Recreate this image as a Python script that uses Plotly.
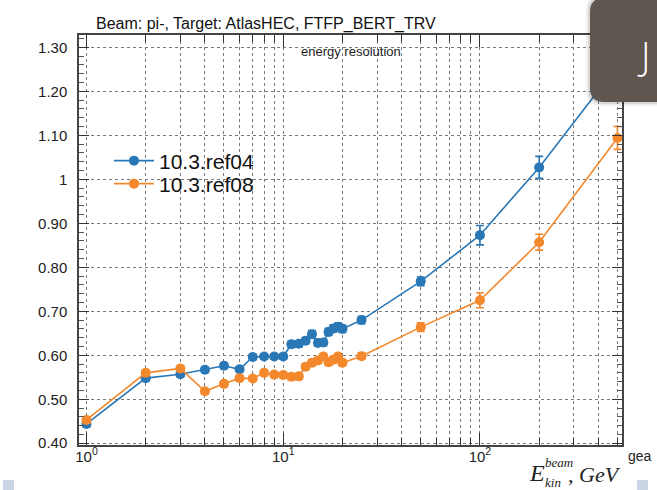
import plotly.graph_objects as go

# ---------------- data ----------------
energy = [1, 2, 3, 4, 5, 6, 7, 8, 9, 10, 11, 12, 13, 14, 15, 16, 17, 18, 19, 20,
          25, 50, 100, 200, 500]
ref04 = [0.444, 0.548, 0.557, 0.567, 0.576, 0.568, 0.596, 0.597, 0.597, 0.597,
         0.625, 0.626, 0.633, 0.648, 0.628, 0.629, 0.653, 0.661, 0.665, 0.660,
         0.680, 0.768, 0.873, 1.027, 1.258]
ref04_err = [0.007, 0.006, 0.006, 0.006, 0.006, 0.006, 0.006, 0.006, 0.006, 0.006,
             0.007, 0.007, 0.007, 0.008, 0.007, 0.007, 0.008, 0.008, 0.008, 0.008,
             0.008, 0.010, 0.022, 0.025, 0.030]
ref08 = [0.453, 0.560, 0.570, 0.518, 0.535, 0.548, 0.547, 0.560, 0.556, 0.555,
         0.551, 0.552, 0.574, 0.583, 0.588, 0.597, 0.584, 0.590, 0.597, 0.583,
         0.598, 0.664, 0.725, 0.857, 1.094]
ref08_err = [0.007, 0.006, 0.006, 0.006, 0.006, 0.006, 0.006, 0.006, 0.006, 0.006,
             0.007, 0.007, 0.007, 0.007, 0.007, 0.007, 0.007, 0.007, 0.007, 0.007,
             0.007, 0.010, 0.017, 0.018, 0.026]

series_names = ["10.3.ref04", "10.3.ref08"]
y_ticks = [0.4, 0.5, 0.6, 0.7, 0.8, 0.9, 1.0, 1.1, 1.2, 1.3]
y_ticktext = ["0.40", "0.50", "0.60", "0.70", "0.80", "0.90", "1", "1.10", "1.20", "1.30"]
x_major = [1, 10, 100]
x_major_text = ["10<sup>0</sup>", "10<sup>1</sup>", "10<sup>2</sup>"]
x_minor = [2, 3, 4, 5, 6, 7, 8, 9, 20, 30, 40, 50, 60, 70, 80, 90, 200, 300, 400, 500]

# ---------------- geometry helpers (pixel -> paper) ----------------
W, H = 657, 490
L, R, T, B = 79, 622, 35, 445


def px(x):
    return (x - L) / (R - L)


def py(y):
    return (B - y) / (B - T)


BLUE = "#2a77b5"
ORANGE = "#f4882c"
FONT = "Liberation Sans, Arial, Helvetica, sans-serif"
SERIF = "Liberation Serif, Times New Roman, serif"

fig = go.Figure()
for name, vals, errs, col, leg in [(series_names[0], ref04, ref04_err, BLUE, "legend"),
                                   (series_names[1], ref08, ref08_err, ORANGE, "legend2")]:
    fig.add_trace(go.Scatter(
        x=energy, y=vals, name=name, mode="lines+markers", legend=leg,
        line=dict(color=col, width=1.6),
        marker=dict(color=col, size=10, line=dict(width=0)),
        error_y=dict(type="data", array=errs, color=col, thickness=1.6, width=4),
    ))

grid = dict(showgrid=True, gridcolor="#7a7a7a", gridwidth=1, griddash="dot")

fig.update_xaxes(
    type="log", range=[-0.038, 2.722],
    tickmode="array", tickvals=x_major, ticktext=x_major_text,
    ticks="inside", ticklen=12, tickwidth=1.2, tickcolor="#333",
    showline=True, linecolor="#444", linewidth=1.5, mirror="allticks",
    tickfont=dict(family=FONT, size=15, color="#222"), ticklabelstandoff=-3,
    minor=dict(tickmode="array", tickvals=x_minor, ticks="inside", ticklen=7,
               tickwidth=1, tickcolor="#333", **grid),
    zeroline=False, **grid,
)
fig.update_yaxes(
    range=[0.396, 1.328],
    tickmode="array", tickvals=y_ticks, ticktext=y_ticktext,
    ticks="inside", ticklen=10, tickwidth=1.2, tickcolor="#333",
    showline=True, linecolor="#444", linewidth=1.5, mirror="allticks",
    tickfont=dict(family=FONT, size=15, color="#222"), ticklabelstandoff=7,
    minor=dict(dtick=0.02, tick0=0.4, ticks="inside", ticklen=5, tickwidth=1,
               tickcolor="#555", showgrid=False),
    zeroline=False, **grid,
)


# ---------- slide overlay box (top-right) ----------
def rounded_box(x0, y0, x1, y1, r):
    s = "M {:.5f},{:.5f} L {:.5f},{:.5f} L {:.5f},{:.5f} L {:.5f},{:.5f} ".format(
        px(x0 + r), py(y0), px(x1), py(y0), px(x1), py(y1), px(x0 + r), py(y1))
    s += "Q {:.5f},{:.5f} {:.5f},{:.5f} ".format(px(x0), py(y1), px(x0), py(y1 - r))
    s += "L {:.5f},{:.5f} ".format(px(x0), py(y0 + r))
    s += "Q {:.5f},{:.5f} {:.5f},{:.5f} Z".format(px(x0), py(y0), px(x0 + r), py(y0))
    return s


shapes = [
    dict(type="path", xref="paper", yref="paper", layer="above",
         path=rounded_box(586, -6, 665, 106, 16), fillcolor="rgba(0,0,0,0.06)",
         line=dict(width=0)),
    dict(type="path", xref="paper", yref="paper", layer="above",
         path=rounded_box(588, -4, 663, 104, 15), fillcolor="rgba(0,0,0,0.10)",
         line=dict(width=0)),
    dict(type="path", xref="paper", yref="paper", layer="above",
         path=rounded_box(590, -2, 662, 102, 14), fillcolor="#5f5650",
         line=dict(width=0)),
    # small slide markers
    dict(type="rect", xref="paper", yref="paper", layer="above",
         x0=px(3), x1=px(14), y0=py(490), y1=py(480), fillcolor="#c9d5e5",
         line=dict(width=0)),
    dict(type="rect", xref="paper", yref="paper", layer="above",
         x0=px(637), x1=px(648), y0=py(490), y1=py(480), fillcolor="#c9d5e5",
         line=dict(width=0)),
]

annotations = [
    dict(text="energy resolution", xref="paper", yref="paper", x=px(351), y=py(51),
         showarrow=False, font=dict(family=FONT, size=13, color="#222"),
         xanchor="center", yanchor="middle"),
    dict(text="J", xref="paper", yref="paper", x=px(643), y=py(55), showarrow=False,
         font=dict(family="Open Sans, Lato, sans-serif", size=38, color="white", weight=300),
         xanchor="center", yanchor="middle"),
    dict(text="gea", xref="paper", yref="paper", x=px(626), y=py(456), showarrow=False,
         font=dict(family=FONT, size=14, color="#222"), xanchor="left", yanchor="middle"),
    dict(text="<i>E</i>", xref="paper", yref="paper", x=px(527), y=py(473), showarrow=False,
         font=dict(family=SERIF, size=24, color="#222"), xanchor="left", yanchor="middle"),
    dict(text="<i>beam</i>", xref="paper", yref="paper", x=px(543), y=py(462), showarrow=False,
         font=dict(family=SERIF, size=13, color="#222"), xanchor="left", yanchor="middle"),
    dict(text="<i>kin</i>", xref="paper", yref="paper", x=px(543), y=py(482), showarrow=False,
         font=dict(family=SERIF, size=13, color="#222"), xanchor="left", yanchor="middle"),
    dict(text="<i>, GeV</i>", xref="paper", yref="paper", x=px(623), y=py(474),
         showarrow=False, font=dict(family=SERIF, size=22, color="#222"),
         xanchor="right", yanchor="middle"),
]

legend_style = dict(xanchor="left", yanchor="middle", bgcolor="rgba(0,0,0,0)",
                    borderwidth=0, itemwidth=40,
                    font=dict(family=FONT, size=21, color="#111"))

fig.update_layout(
    width=W, height=H, autosize=False,
    margin=dict(l=L, r=W - R, t=T, b=H - B, pad=0),
    paper_bgcolor="white", plot_bgcolor="white",
    title=dict(text="Beam: pi-, Target: AtlasHEC, FTFP_BERT_TRV",
               x=96 / W, xanchor="left", y=1 - 23 / H, yanchor="middle",
               font=dict(family=FONT, size=16, color="#111")),
    legend=dict(x=px(109), y=py(161), **legend_style),
    legend2=dict(x=px(109), y=py(184), **legend_style),
    shapes=shapes, annotations=annotations,
    showlegend=True,
)

fig.write_html("out.html", config={"displayModeBar": False},
               post_script="document.body.style.margin='0';document.body.style.padding='0';")
